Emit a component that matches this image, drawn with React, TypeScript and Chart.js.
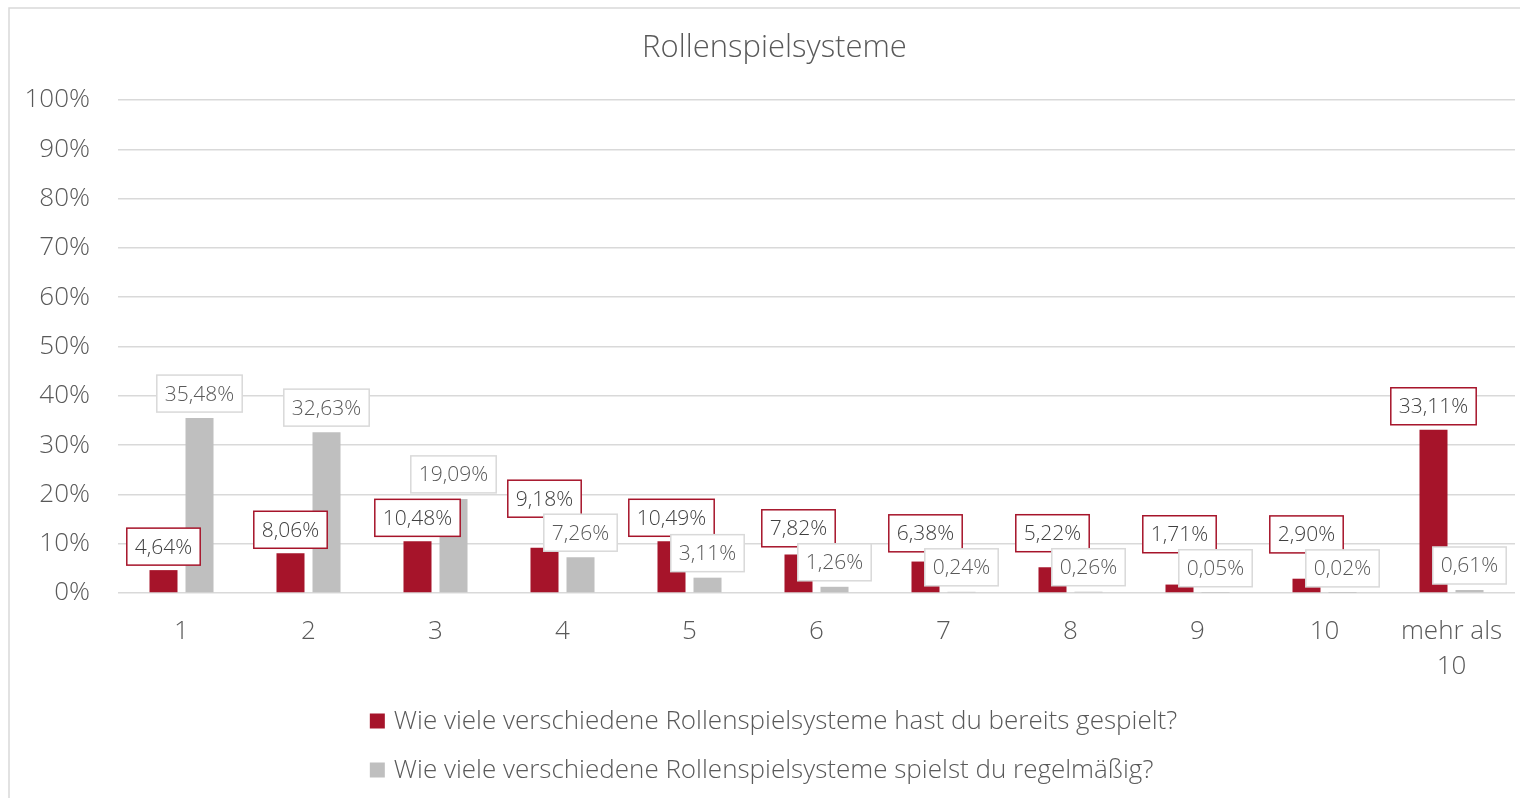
import React, { useEffect, useRef } from "react";
import { Chart, registerables } from "chart.js";

Chart.register(...registerables);

const categories: (string | string[])[] = ["1", "2", "3", "4", "5", "6", "7", "8", "9", "10", ["mehr als", "10"]];
const playedValues = [4.64, 8.06, 10.48, 9.18, 10.49, 7.82, 6.38, 5.22, 1.71, 2.9, 33.11];
const regularValues = [35.48, 32.63, 19.09, 7.26, 3.11, 1.26, 0.24, 0.26, 0.05, 0.02, 0.61];
const seriesLabels = [
  "Wie viele verschiedene Rollenspielsysteme hast du bereits gespielt?",
  "Wie viele verschiedene Rollenspielsysteme spielst du regelmäßig?",
];
const chartTitle = "Rollenspielsysteme";

const RED = "#A6142A";
const GRAY = "#BFBFBF";
const FONT = "'Open Sans', 'Noto Sans', sans-serif";

const fmt = (v: number) => v.toFixed(2).replace(".", ",") + "%";

const frame = {
  id: "frame",
  beforeDraw(chart: any) {
    const ctx = chart.ctx;
    ctx.save();
    ctx.fillStyle = "#ffffff";
    ctx.fillRect(0, 0, chart.width, chart.height);
    ctx.strokeStyle = "#d9d9d9";
    ctx.lineWidth = 1.5;
    ctx.strokeRect(9, 8, chart.width + 40, chart.height + 40);
    ctx.restore();
  },
};

const boxTitle = {
  id: "boxTitle",
  afterDraw(chart: any) {
    const ctx = chart.ctx;
    ctx.save();
    ctx.font = `300 31px ${FONT}`;
    ctx.fillStyle = "#595959";
    ctx.textAlign = "center";
    ctx.textBaseline = "middle";
    ctx.fillText(chartTitle, (chart.chartArea.left + chart.chartArea.right) / 2 - 42, chart.chartArea.top - 52);
    ctx.restore();
  },
};

const blockLegend = {
  id: "blockLegend",
  afterDraw(chart: any) {
    const ctx = chart.ctx;
    ctx.save();
    ctx.font = `300 26px ${FONT}`;
    ctx.textBaseline = "middle";
    ctx.textAlign = "left";
    const ds = chart.data.datasets;
    const box = 15;
    const gap = 9;
    const maxW = Math.max(...ds.map((d: any) => ctx.measureText(d.label).width)) + box + gap;
    const center = (chart.chartArea.left + chart.chartArea.right) / 2 - 43;
    const x0 = center - maxW / 2;
    const y0 = chart.chartArea.bottom + 128;
    ds.forEach((d: any, i: number) => {
      const y = y0 + i * 49;
      ctx.fillStyle = d.backgroundColor;
      ctx.fillRect(x0, y - box / 2, box, box);
      ctx.fillStyle = "#595959";
      ctx.fillText(d.label, x0 + box + gap, y + 1);
    });
    ctx.restore();
  },
};

const dataLabels = {
  id: "dataLabels",
  afterDatasetsDraw(chart: any) {
    const ctx = chart.ctx;
    ctx.save();
    ctx.font = `300 21px ${FONT}`;
    ctx.textAlign = "center";
    ctx.textBaseline = "middle";
    const h = 37;
    const padX = 8;
    const m0 = chart.getDatasetMeta(0);
    const m1 = chart.getDatasetMeta(1);
    const d0 = chart.data.datasets[0].data as number[];
    const d1 = chart.data.datasets[1].data as number[];
    const boxes: any[] = [];
    for (let i = 0; i < d0.length; i++) {
      const e1 = m1.data[i];
      const t1 = fmt(d1[i]);
      const w1 = ctx.measureText(t1).width + padX * 2;
      const gb = { x: e1.x - w1 / 2, y: e1.y - 6 - h, w: w1, h, t: t1, stroke: "#d9d9d9", color: "#595959" };
      const e0 = m0.data[i];
      const t0 = fmt(d0[i]);
      const w0 = ctx.measureText(t0).width + padX * 2;
      let ry = e0.y - 5 - h;
      const overlapX = e0.x - w0 / 2 < gb.x + gb.w && e0.x + w0 / 2 > gb.x;
      const overlapAmt = ry + h - gb.y;
      if (overlapX && overlapAmt > 3 && ry < gb.y + gb.h) {
        ry = gb.y + 3 - h;
      }
      const rb = { x: e0.x - w0 / 2, y: ry, w: w0, h, t: t0, stroke: RED, color: "#404040" };
      boxes.push(rb, gb);
    }
    const draw = (b: any) => {
      ctx.fillStyle = "#ffffff";
      ctx.fillRect(b.x, b.y, b.w, b.h);
      ctx.strokeStyle = b.stroke;
      ctx.lineWidth = 1.5;
      ctx.strokeRect(b.x, b.y, b.w, b.h);
      ctx.fillStyle = b.color;
      ctx.fillText(b.t, b.x + b.w / 2, b.y + b.h / 2 + 1);
    };
    boxes.filter((b) => b.stroke === RED).forEach(draw);
    boxes.filter((b) => b.stroke !== RED).forEach(draw);
    ctx.restore();
  },
};

export default function App() {
  const ref = useRef<HTMLCanvasElement>(null);
  useEffect(() => {
    if (!ref.current) return;
    const chart = new Chart(ref.current, {
      type: "bar",
      data: {
        labels: categories as any,
        datasets: [
          { label: seriesLabels[0], data: playedValues, backgroundColor: RED, categoryPercentage: 0.567, barPercentage: 0.778 },
          { label: seriesLabels[1], data: regularValues, backgroundColor: GRAY, categoryPercentage: 0.567, barPercentage: 0.778 },
        ],
      },
      options: {
        animation: false,
        responsive: false,
        maintainAspectRatio: false,
        layout: { padding: { left: 0, right: 5, top: 100, bottom: 115 } },
        plugins: {
          title: { display: false },
          legend: { display: false },
          tooltip: { enabled: false },
        },
        scales: {
          x: {
            afterFit: (s: any) => {
              s.height = 90;
              s.paddingLeft = 0;
              s.paddingRight = 0;
            },
            grid: { display: false, drawTicks: false },
            border: { display: false },
            ticks: {
              color: "#595959",
              font: { family: FONT, size: 26, weight: "300" as any, lineHeight: 1.35 },
              padding: 21,
              maxRotation: 0,
              autoSkip: false,
            },
          },
          y: {
            min: 0,
            max: 100,
            afterFit: (s: any) => {
              s.width = 118;
            },
            grid: { color: "#d9d9d9", lineWidth: 1.5, drawTicks: false },
            border: { display: false },
            ticks: {
              stepSize: 10,
              color: "#595959",
              font: { family: FONT, size: 26, weight: "300" as any },
              padding: 28,
              callback: (v: any) => v + "%",
            },
          },
        },
      },
      plugins: [frame, dataLabels, boxTitle, blockLegend],
    });
    return () => chart.destroy();
  }, []);
  return (
    <div style={{ position: "fixed", left: 0, top: 0, width: 1520, height: 798 }}>
      <canvas ref={ref} width={1520} height={798} style={{ width: 1520, height: 798, display: "block" }} />
    </div>
  );
}
